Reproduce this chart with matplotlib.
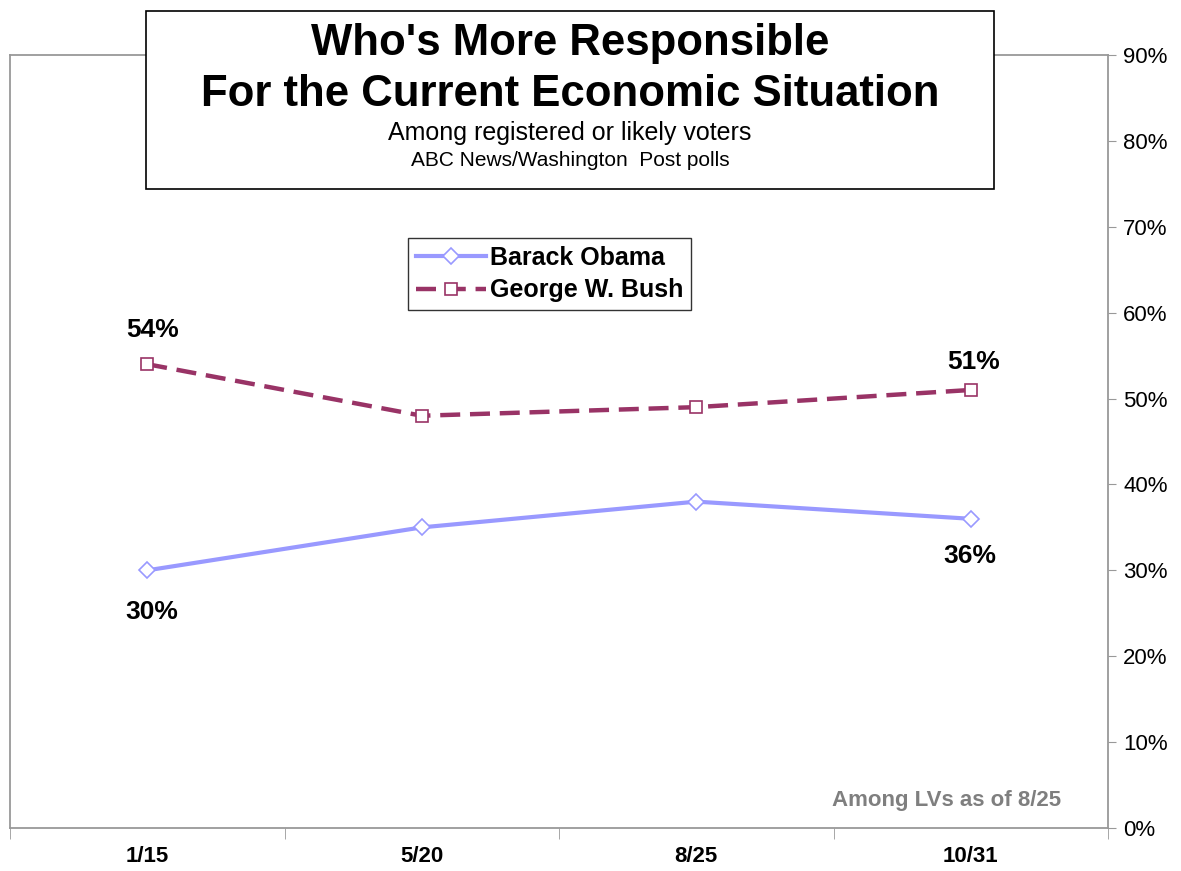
import numpy as np
import matplotlib.pyplot as plt
from matplotlib.patches import Rectangle
from matplotlib.ticker import FixedLocator

plt.rcParams['font.family'] = ['Liberation Sans', 'DejaVu Sans']

# poll dates and shares (%)
dates = ['1/15', '5/20', '8/25', '10/31']
obama = [30, 35, 38, 36]
bush = [54, 48, 49, 51]
yticks = [0, 10, 20, 30, 40, 50, 60, 70, 80, 90]

obama_col = '#9999FF'
bush_col = '#993366'
grey = '#999999'

fig = plt.figure(figsize=(11.81, 8.71), dpi=100)
ax = fig.add_axes([10 / 1181, 43 / 871, 1098 / 1181, 773 / 871])

x = np.arange(len(dates))
ax.plot(x, obama, color=obama_col, lw=3, marker='D', ms=8, mfc='white',
        mec=obama_col, mew=1.2, label='Barack Obama', zorder=3)
ax.plot(x, bush, color=bush_col, lw=3.2, ls=(0, (4.5, 2.2)), marker='s', ms=9,
        mfc='white', mec=bush_col, mew=1.2, label='George W. Bush', zorder=3)

ax.set_xlim(-0.5, len(dates) - 0.5)
ax.set_ylim(0, 90)

# category labels with boundary ticks
ax.set_xticks(x)
ax.set_xticklabels(dates, fontsize=16, fontweight='bold')
ax.tick_params(axis='x', which='major', length=0, pad=13)
ax.xaxis.set_minor_locator(FixedLocator(np.arange(-0.5, len(dates), 1.0)))
ax.tick_params(axis='x', which='minor', length=8, color=grey, direction='out')

ax.yaxis.tick_right()
ax.set_yticks(yticks)
ax.set_yticklabels([f'{v}%' for v in yticks], fontsize=16)
ax.tick_params(axis='y', length=6, color=grey, direction='out', pad=5)

for s in ax.spines.values():
    s.set_color(grey)
    s.set_linewidth(1.3)

# end-point labels
lab = dict(textcoords='offset points', ha='center', va='center', fontsize=19,
           fontweight='bold')
ax.annotate(f'{bush[0]}%', (0, bush[0]), xytext=(4, 24.5), **lab)
ax.annotate(f'{obama[0]}%', (0, obama[0]), xytext=(3, -30), **lab)
ax.annotate(f'{bush[-1]}%', (3, bush[-1]), xytext=(2, 20), **lab)
ax.annotate(f'{obama[-1]}%', (3, obama[-1]), xytext=(-1, -27), **lab)

ax.text(0.957, 0.036, 'Among LVs as of 8/25', transform=ax.transAxes, ha='right',
        va='center', fontsize=16, fontweight='bold', color='#7f7f7f')

leg = ax.legend(loc='upper left', bbox_to_anchor=((408 - 10) / 1098, (828 - 238) / 773),
                prop={'weight': 'bold', 'size': 18}, frameon=True,
                fancybox=False, edgecolor='black', borderpad=0.3, handlelength=2.8,
                handletextpad=0.2, labelspacing=0.35, borderaxespad=0)
leg.get_frame().set_linewidth(1.0)

# title box
fig.patches.append(Rectangle((146 / 1181, 1 - 189 / 871), 848 / 1181, 178 / 871,
                             transform=fig.transFigure, facecolor='white',
                             edgecolor='black', lw=1.2, zorder=5))
cx = 570 / 1181
fig.text(cx, 1 - 43 / 871, "Who's More Responsible", ha='center', va='center',
         fontsize=31.5, fontweight='bold', zorder=6)
fig.text(cx, 1 - 94 / 871, 'For the Current Economic Situation', ha='center', va='center',
         fontsize=31.5, fontweight='bold', zorder=6)
fig.text(cx, 1 - 133 / 871, 'Among registered or likely voters', ha='center', va='center',
         fontsize=18, zorder=6)
fig.text(cx, 1 - 160 / 871, 'ABC News/Washington  Post polls', ha='center', va='center',
         fontsize=15, zorder=6)

fig.savefig('out.png', dpi=100)
